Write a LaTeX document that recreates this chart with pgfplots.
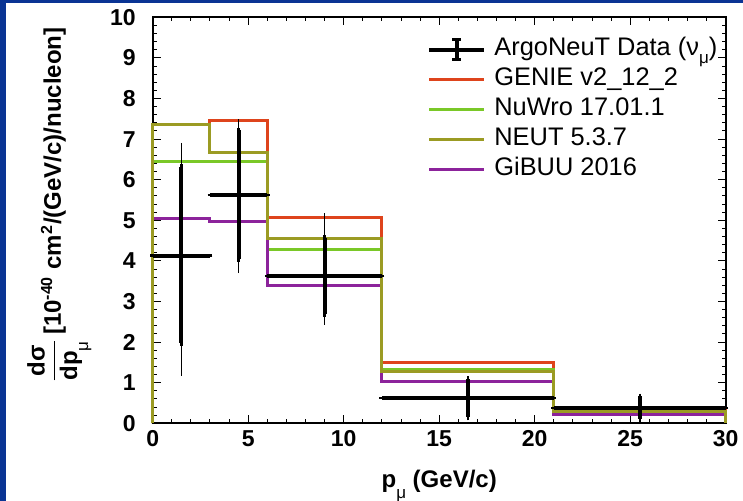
\documentclass[border=0pt]{standalone}
\usepackage{fontspec}
\setmainfont{Liberation Sans}
\usepackage{amsmath}
\usepackage{pgfplots}
\usepackage{pgfplotstable}
\pgfplotsset{compat=1.18}

\definecolor{slideblue}{RGB}{10,52,148}
\definecolor{genie}{RGB}{222,68,28}
\definecolor{nuwro}{RGB}{122,200,40}
\definecolor{neut}{RGB}{155,155,35}
\definecolor{gibuu}{RGB}{140,35,155}

% histograms: bin left edges, closed down to zero at both ends
\pgfplotstableread{
x y
0 0
0 7.36
3 7.47
6 5.06
12 1.49
21 0.34
30 0.34
30 0
}\genietab
\pgfplotstableread{
x y
0 0
0 6.46
3 6.46
6 4.27
12 1.33
21 0.30
30 0.30
30 0
}\nuwrotab
\pgfplotstableread{
x y
0 0
0 7.37
3 6.67
6 4.56
12 1.27
21 0.29
30 0.29
30 0
}\neuttab
\pgfplotstableread{
x y
0 0
0 5.05
3 4.98
6 3.39
12 1.03
21 0.22
30 0.22
30 0
}\gibuutab
% ArgoNeuT data: stat (ep/em) and total (tp/tm) errors
\pgfplotstableread{
x y ex ep em tp tm
1.5 4.13 1.5 2.19 2.16 2.72 2.90
4.5 5.62 1.5 1.60 1.58 1.81 1.86
9 3.63 3 0.94 0.95 1.48 1.14
16.5 0.63 4.5 0.45 0.48 0.47 0.50
25.5 0.37 4.5 0.29 0.27 0.30 0.28
}\datatab

\begin{document}
\begin{tikzpicture}
\fill[slideblue, use as bounding box] (-76.35pt,-38.85pt) rectangle (295.15pt,211.65pt);
\fill[white] (-73.35pt,-38.85pt) rectangle (295.15pt,210.15pt);
\begin{axis}[
    at={(0,0)}, anchor=south west,
    scale only axis, width=286.5pt, height=203pt,
    xmin=0, xmax=30, ymin=0, ymax=10,
    xtick={0,5,...,30}, ytick={0,1,...,10},
    minor x tick num=4, minor y tick num=4,
    tick align=inside, tick pos=both,
    major tick length=4pt, minor tick length=2pt,
    every tick/.style={black, line width=0.5pt},
    axis line style={line width=1pt},
    clip=false,
    /pgf/number format/assume math mode=true,
    tick label style={font=\fontsize{11.5}{13}\selectfont\bfseries},
    yticklabel style={xshift=-5pt},
    label style={font=\fontsize{12}{14}\selectfont\bfseries},
    xlabel={p\raisebox{-0.45em}{\fontsize{8.5}{8.5}\selectfont\mdseries μ}\ (GeV/c)},
    xlabel style={yshift=-5pt},
    ylabel={$\displaystyle\frac{\text{\bfseries dσ}}{\text{\bfseries dp\raisebox{-0.45em}{\fontsize{8.5}{8.5}\selectfont\mdseries μ}}}$\,[10\textsuperscript{-40} cm\textsuperscript{2}/(GeV/c)/nucleon]},
    ylabel style={at={([xshift=-30.5pt,yshift=-4.9pt]rel axis cs:0,1)}, anchor=south east, inner sep=0pt},
    legend image code/.code={\draw[#1] (0pt,0pt) -- (27.5pt,0pt);},
    legend style={at={(rel axis cs:0.4787,0.951)}, anchor=north west,
        draw=none, fill=none, inner sep=0pt, row sep=3pt,
        font=\fontsize{12.7}{15}\selectfont,
        nodes={inner sep=0pt, text height=9pt, text depth=3pt},
        /tikz/every odd column/.append style={column sep=4pt}},
    legend cell align=left,
]
\addplot[genie, line width=1.5pt, const plot mark left, forget plot] table {\genietab};
\addplot[nuwro, line width=1.5pt, const plot mark left, forget plot] table {\nuwrotab};
\addplot[gibuu, line width=1.5pt, const plot mark left, forget plot] table {\gibuutab};
\addplot[neut, line width=1.5pt, const plot mark left, forget plot] table {\neuttab};
% total errors (thin)
\addplot[draw=none, mark=none, forget plot,
    error bars/.cd, y dir=both, y explicit,
    error bar style={draw=black, line width=0.8pt},
    error mark options={draw=black, mark size=1.2pt, line width=0.8pt}]
    table[x=x, y=y, y error plus=tp, y error minus=tm] {\datatab};
% stat errors and bin widths (thick)
\addplot[draw=none, mark=none, forget plot,
    error bars/.cd, x dir=both, x explicit, y dir=both, y explicit,
    error bar style={draw=black, line width=2pt},
    error mark options={draw=black, mark size=1.2pt, line width=1.2pt}]
    table[x=x, y=y, x error=ex, y error plus=ep, y error minus=em] {\datatab};
\addlegendimage{legend image code/.code={
    \draw[black, line width=2pt] (0pt,0pt) -- (27.5pt,0pt);
    \draw[black, line width=2pt] (13.75pt,-5pt) -- (13.75pt,5pt);
    \draw[black, line width=1.5pt] (11.5pt,5pt) -- (16pt,5pt) (11.5pt,-5pt) -- (16pt,-5pt);}}
\addlegendentry{ArgoNeuT Data (ν\raisebox{-0.3em}{\fontsize{8.5}{8.5}\selectfont μ})}
\addlegendimage{genie, line width=1.5pt}
\addlegendentry{GENIE v2\_12\_2}
\addlegendimage{nuwro, line width=1.5pt}
\addlegendentry{NuWro 17.01.1}
\addlegendimage{neut, line width=1.5pt}
\addlegendentry{NEUT 5.3.7}
\addlegendimage{gibuu, line width=1.5pt}
\addlegendentry{GiBUU 2016}
\end{axis}
\end{tikzpicture}
\end{document}
